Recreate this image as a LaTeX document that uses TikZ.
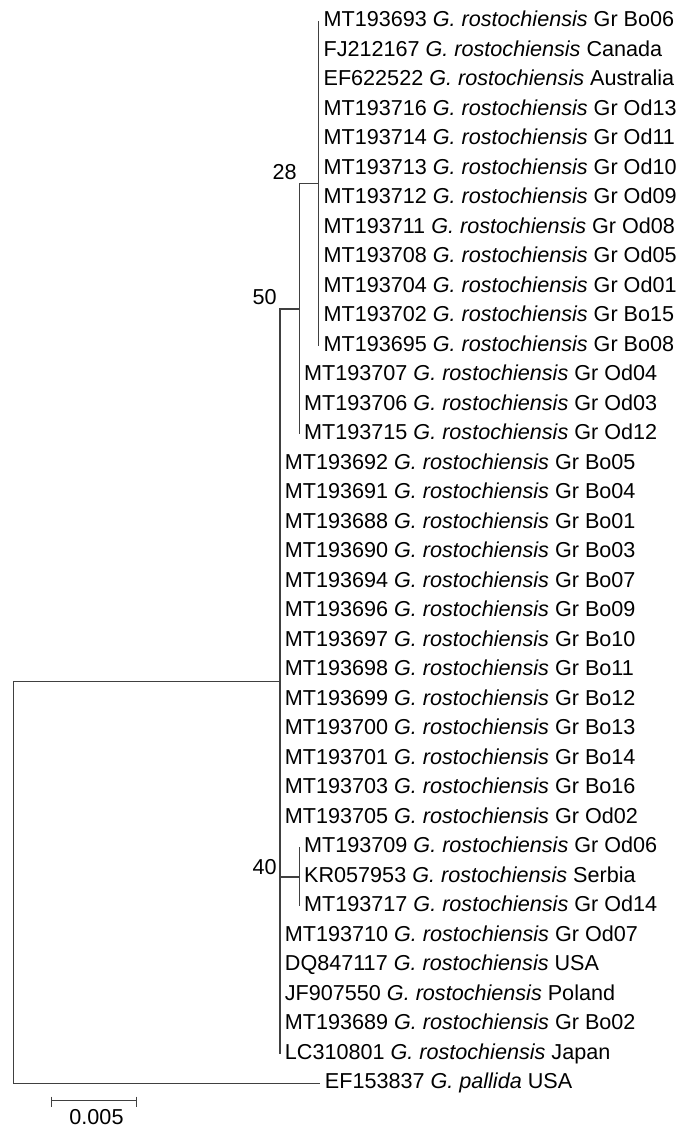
\documentclass[tikz,border=0pt]{standalone}
\usepackage{fontspec}
\setmainfont{Liberation Sans}
\newcommand{\Gro}{\textit{G. rostochiensis}}
\tikzset{
  leaf/.style={anchor=west,inner xsep=2.25pt,inner ysep=0pt,text height=8pt,text depth=2.5pt},
  boot/.style={anchor=base east,inner sep=0pt},
  branch/.style={draw=black!75,line width=0.7pt}
}
\begin{document}
\begin{tikzpicture}[x=0.5pt,y=-0.5pt,every node/.style={font=\fontsize{10.8}{12}\selectfont}]
\useasboundingbox (0,0) rectangle (677,1128);
% inner nodes of the tree
\coordinate (root) at (13.3,882.3);
\coordinate (ingroup) at (280,681.3);
\coordinate (n50) at (299.3,308.9);
\coordinate (n28) at (318.7,183.5);
\coordinate (n40) at (299.3,876.8);
% leaves
\node[leaf] (MT193693) at (318.7,21.3) {MT193693 \Gro{} Gr Bo06};
\node[leaf] (FJ212167) at (318.7,50.8) {FJ212167 \Gro{} Canada};
\node[leaf] (EF622522) at (318.7,80.3) {EF622522 \Gro{} Australia};
\node[leaf] (MT193716) at (318.7,109.8) {MT193716 \Gro{} Gr Od13};
\node[leaf] (MT193714) at (318.7,139.3) {MT193714 \Gro{} Gr Od11};
\node[leaf] (MT193713) at (318.7,168.8) {MT193713 \Gro{} Gr Od10};
\node[leaf] (MT193712) at (318.7,198.3) {MT193712 \Gro{} Gr Od09};
\node[leaf] (MT193711) at (318.7,227.8) {MT193711 \Gro{} Gr Od08};
\node[leaf] (MT193708) at (318.7,257.3) {MT193708 \Gro{} Gr Od05};
\node[leaf] (MT193704) at (318.7,286.8) {MT193704 \Gro{} Gr Od01};
\node[leaf] (MT193702) at (318.7,316.3) {MT193702 \Gro{} Gr Bo15};
\node[leaf] (MT193695) at (318.7,345.8) {MT193695 \Gro{} Gr Bo08};
\node[leaf] (MT193707) at (299.3,375.3) {MT193707 \Gro{} Gr Od04};
\node[leaf] (MT193706) at (299.3,404.8) {MT193706 \Gro{} Gr Od03};
\node[leaf] (MT193715) at (299.3,434.3) {MT193715 \Gro{} Gr Od12};
\node[leaf] (MT193692) at (280,463.8) {MT193692 \Gro{} Gr Bo05};
\node[leaf] (MT193691) at (280,493.3) {MT193691 \Gro{} Gr Bo04};
\node[leaf] (MT193688) at (280,522.8) {MT193688 \Gro{} Gr Bo01};
\node[leaf] (MT193690) at (280,552.3) {MT193690 \Gro{} Gr Bo03};
\node[leaf] (MT193694) at (280,581.8) {MT193694 \Gro{} Gr Bo07};
\node[leaf] (MT193696) at (280,611.3) {MT193696 \Gro{} Gr Bo09};
\node[leaf] (MT193697) at (280,640.8) {MT193697 \Gro{} Gr Bo10};
\node[leaf] (MT193698) at (280,670.3) {MT193698 \Gro{} Gr Bo11};
\node[leaf] (MT193699) at (280,699.8) {MT193699 \Gro{} Gr Bo12};
\node[leaf] (MT193700) at (280,729.3) {MT193700 \Gro{} Gr Bo13};
\node[leaf] (MT193701) at (280,758.8) {MT193701 \Gro{} Gr Bo14};
\node[leaf] (MT193703) at (280,788.3) {MT193703 \Gro{} Gr Bo16};
\node[leaf] (MT193705) at (280,817.8) {MT193705 \Gro{} Gr Od02};
\node[leaf] (MT193709) at (299.3,847.3) {MT193709 \Gro{} Gr Od06};
\node[leaf] (KR057953) at (299.3,876.8) {KR057953 \Gro{} Serbia};
\node[leaf] (MT193717) at (299.3,906.3) {MT193717 \Gro{} Gr Od14};
\node[leaf] (MT193710) at (280,935.8) {MT193710 \Gro{} Gr Od07};
\node[leaf] (DQ847117) at (280,965.3) {DQ847117 \Gro{} USA};
\node[leaf] (JF907550) at (280,994.8) {JF907550 \Gro{} Poland};
\node[leaf] (MT193689) at (280,1024.3) {MT193689 \Gro{} Gr Bo02};
\node[leaf] (LC310801) at (280,1053.8) {LC310801 \Gro{} Japan};
\node[leaf] (EF153837) at (320,1083.3) {EF153837 \textit{G. pallida} USA};
% branches
\draw[branch] (root) |- (ingroup);
\draw[branch] (root) |- (EF153837.west);
\draw[branch] (ingroup) |- (n50);
\draw[branch] (ingroup) |- (LC310801.west);
\draw[branch] (ingroup) |- (n40);
\draw[branch] (n50) |- (n28);
\draw[branch] (n50) |- (MT193715.west);
\draw[branch] (n28) |- (MT193693.west);
\draw[branch] (n28) |- (MT193695.west);
\draw[branch] (n40) |- (MT193709.west);
\draw[branch] (n40) |- (MT193717.west);
% bootstrap values
\node[boot] (bs28) at (297,180) {28};
\node[boot] (bs50) at (277,305) {50};
\node[boot] (bs40) at (277,874) {40};
% scale bar
\coordinate (sbl) at (51.7,1100.7);
\coordinate (sbr) at (136.7,1100.7);
\draw[branch] (sbl) -- (sbr);
\draw[branch] (sbl) ++(0,-4) -- ++(0,10);
\draw[branch] (sbr) ++(0,-4) -- ++(0,10);
\node[anchor=base,inner sep=0pt] (scale) at (96.5,1124.5) {0.005};
\end{tikzpicture}
\end{document}
